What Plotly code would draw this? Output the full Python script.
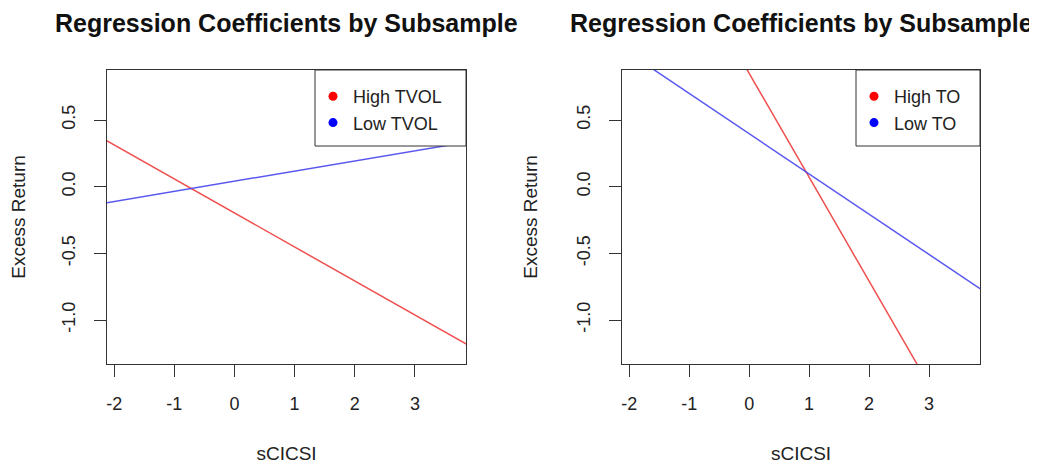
import plotly.graph_objects as go

# ---- data ----
x_ends = [-2.2, 3.9]                 # sCICSI values at which each fitted line is evaluated
tvol_high = [0.364, -1.192]          # High TVOL fitted excess return
tvol_low = [-0.126, 0.337]           # Low TVOL fitted excess return
to_high = [2.564, -2.188]            # High TO fitted excess return
to_low = [1.062, -0.780]             # Low TO fitted excess return

x_ticks = [-2, -1, 0, 1, 2, 3]
x_tick_text = ["-2", "-1", "0", "1", "2", "3"]
y_ticks = [-1.0, -0.5, 0.0, 0.5]
y_tick_text = ["-1.0", "-0.5", "0.0", "0.5"]
title_text = "Regression Coefficients by Subsample"
x_title = "sCICSI"
y_title = "Excess Return"

RED_LINE = "rgba(238,60,60,0.9)"
BLUE_LINE = "rgba(70,70,240,0.9)"
FONT = "Liberation Sans, Arial, sans-serif"

# the page body has an 8px default margin, so the figure is drawn 8px in from the window corner
OFF = 8
W, H = 1037 - OFF, 466 - OFF
def px_x(p): return (p - OFF) / W
def px_y(p): return 1 - (p - OFF) / H

fig = go.Figure()

panels = [
    ("x", "y", "legend", [("High TVOL", tvol_high, RED_LINE, "red"), ("Low TVOL", tvol_low, BLUE_LINE, "blue")]),
    ("x2", "y2", "legend2", [("High TO", to_high, RED_LINE, "red"), ("Low TO", to_low, BLUE_LINE, "blue")]),
]
for xa, ya, lg, series in panels:
    for name, vals, lc, mc in series:
        fig.add_trace(go.Scatter(x=x_ends, y=vals, mode="lines", line=dict(color=lc, width=1.5),
                                 xaxis=xa, yaxis=ya, showlegend=False, hoverinfo="skip"))
    for name, vals, lc, mc in series:
        fig.add_trace(go.Scatter(x=[None], y=[None], mode="markers", name=name,
                                 marker=dict(color=mc, size=9, symbol="circle"),
                                 xaxis=xa, yaxis=ya, legend=lg, showlegend=True))

# plot area pixel boxes (window pixels)
left_box = (107, 466)
right_box = (622, 980)
top_px, bottom_px = 70, 364

axis_common = dict(showgrid=False, zeroline=False, showline=True, mirror=True,
                   linecolor="#333", linewidth=1, ticks="outside", ticklen=12,
                   tickcolor="#333", tickwidth=1, automargin=False,
                   tickfont=dict(family=FONT, size=18, color="#222"))

xr = [-2.12, 3.85]
yr = [-1.33, 0.875]

for i, (l, r) in enumerate([left_box, right_box]):
    sfx = "" if i == 0 else str(i + 1)
    fig.layout["xaxis" + sfx] = dict(axis_common, domain=[px_x(l), px_x(r)], range=xr,
                                     tickvals=x_ticks, ticktext=x_tick_text, anchor="y" + sfx,
                                     ticklabelstandoff=11,
                                     title=dict(text=x_title, font=dict(family=FONT, size=19, color="#222"), standoff=34))
    fig.layout["yaxis" + sfx] = dict(axis_common, domain=[px_y(bottom_px), px_y(top_px)], range=yr,
                                     tickvals=y_ticks, ticktext=y_tick_text, tickangle=-90,
                                     anchor="x" + sfx, ticklabelstandoff=12,
                                     title=dict(text=y_title, font=dict(family=FONT, size=19, color="#222"), standoff=31))
    # title
    fig.add_annotation(text="<b>" + title_text + "</b>", x=px_x((l + r) / 2), y=1,
                       xref="paper", yref="paper", showarrow=False, xanchor="center", yanchor="top",
                       borderpad=0, font=dict(family=FONT, size=25, color="#111"))

# legend frames
legend_boxes = [(315, 466), (856, 980)]
for (l, r) in legend_boxes:
    fig.add_shape(type="rect", xref="paper", yref="paper", x0=px_x(l), x1=px_x(r),
                  y0=px_y(146), y1=px_y(top_px), line=dict(color="#333", width=1),
                  fillcolor="white", layer="above")

leg_common = dict(bgcolor="rgba(0,0,0,0)", borderwidth=0, font=dict(family=FONT, size=18, color="#222"),
                  xanchor="left", yanchor="top", itemclick=False, itemdoubleclick=False)
fig.update_layout(
    legend=dict(leg_common, x=px_x(313), y=px_y(78)),
    legend2=dict(leg_common, x=px_x(854), y=px_y(78)),
)

fig.update_layout(width=W, height=H, margin=dict(l=0, r=0, t=0, b=0),
                  plot_bgcolor="white", paper_bgcolor="white")

fig.write_html("out.html")
